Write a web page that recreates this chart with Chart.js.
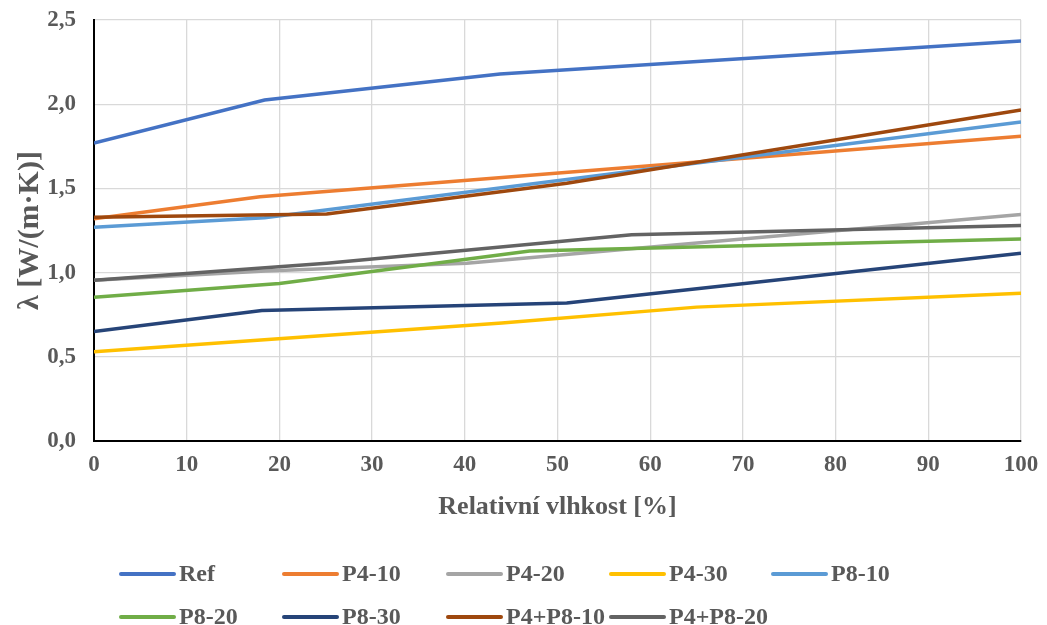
<!DOCTYPE html>
<html>
<head>
<meta charset="utf-8">
<script src="https://cdn.jsdelivr.net/npm/chart.js@4/dist/chart.umd.min.js"></script>
<style>
  html, body { margin: 0; padding: 0; background: #fff; }
  #wrap { width: 1047px; height: 625px; position: relative; }
</style>
</head>
<body>
<div id="wrap"><canvas id="c" width="1047" height="625"></canvas></div>
<script>
// Relative humidity [%] and thermal conductivity [W/(m·K)] per mixture
const seriesNames = ['Ref', 'P4-10', 'P4-20', 'P4-30', 'P8-10', 'P8-20', 'P8-30', 'P4+P8-10', 'P4+P8-20'];

const refRH = [0, 18.4, 43.8, 100];
const refLambda = [1.77, 2.025, 2.18, 2.375];

const p4_10RH = [0, 17.9, 100];
const p4_10Lambda = [1.32, 1.45, 1.81];

const p4_20RH = [0, 18.5, 40.2, 100];
const p4_20Lambda = [0.955, 1.01, 1.055, 1.345];

const p4_30RH = [0, 18, 44, 65, 100];
const p4_30Lambda = [0.53, 0.60, 0.70, 0.795, 0.878];

const p8_10RH = [0, 18.4, 100];
const p8_10Lambda = [1.27, 1.326, 1.895];

const p8_20RH = [0, 20, 47, 100];
const p8_20Lambda = [0.853, 0.935, 1.128, 1.20];

const p8_30RH = [0, 18.1, 51, 100];
const p8_30Lambda = [0.65, 0.775, 0.82, 1.115];

const p4p8_10RH = [0, 25.1, 51, 100];
const p4p8_10Lambda = [1.328, 1.348, 1.53, 1.965];

const p4p8_20RH = [0, 25.1, 58, 100];
const p4p8_20Lambda = [0.955, 1.055, 1.225, 1.28];

const xTicks = [0, 10, 20, 30, 40, 50, 60, 70, 80, 90, 100];
const yTicks = [0, 0.5, 1.0, 1.5, 2.0, 2.5];

const seriesRH = [refRH, p4_10RH, p4_20RH, p4_30RH, p8_10RH, p8_20RH, p8_30RH, p4p8_10RH, p4p8_20RH];
const seriesLambda = [refLambda, p4_10Lambda, p4_20Lambda, p4_30Lambda, p8_10Lambda, p8_20Lambda, p8_30Lambda, p4p8_10Lambda, p4p8_20Lambda];
const seriesColors = ['#4472C4', '#ED7D31', '#A5A5A5', '#FFC000', '#5B9BD5', '#70AD47', '#264478', '#9E480E', '#636363'];

const textColor = '#595959';
const fontFamily = "'Liberation Serif', 'Times New Roman', serif";

const datasets = seriesNames.map((name, i) => ({
  label: name,
  data: seriesRH[i].map((x, k) => ({ x: x, y: seriesLambda[i][k] })),
  borderColor: seriesColors[i],
  backgroundColor: seriesColors[i],
  borderWidth: 3.5,
  pointRadius: 0,
  tension: 0,
  fill: false,
  order: seriesNames.length - i
}));

// Legend laid out on a fixed grid of five columns
const gridLegend = {
  id: 'gridLegend',
  afterDraw(chart) {
    const ctx = chart.ctx;
    const cols = [121, 284, 448, 611, 773];
    const rows = [574, 617];
    ctx.save();
    ctx.font = 'bold 24px ' + fontFamily;
    ctx.textBaseline = 'middle';
    ctx.textAlign = 'left';
    chart.data.datasets.forEach((ds, i) => {
      const x = cols[i % 5];
      const y = rows[Math.floor(i / 5)];
      ctx.strokeStyle = ds.borderColor;
      ctx.lineWidth = 4;
      ctx.lineCap = 'round';
      ctx.beginPath();
      ctx.moveTo(x, y);
      ctx.lineTo(x + 53, y);
      ctx.stroke();
      ctx.fillStyle = textColor;
      ctx.fillText(ds.label, x + 58, y + 1);
    });
    ctx.restore();
  }
};

new Chart(document.getElementById('c'), {
  type: 'line',
  data: { datasets: datasets },
  plugins: [gridLegend],
  options: {
    responsive: false,
    animation: false,
    layout: { padding: { left: 0, right: 26, top: 20, bottom: 94 } },
    plugins: {
      legend: { display: false },
      tooltip: { enabled: false }
    },
    scales: {
      x: {
        type: 'linear',
        min: 0,
        max: 100,
        afterBuildTicks(scale) { scale.ticks = xTicks.map(v => ({ value: v })); },
        afterFit(scale) {
          scale.height = 90;
          scale.paddingLeft = 0;
          scale.paddingRight = 0;
        },
        grid: { color: '#d9d9d9', lineWidth: 1.3, drawTicks: false },
        border: { color: '#000000', width: 2 },
        ticks: {
          padding: 10,
          color: textColor,
          font: { family: fontFamily, size: 23, weight: 'bold' },
          maxRotation: 0,
          callback: v => String(v)
        },
        title: {
          display: true,
          text: 'Relativní vlhkost [%]',
          color: textColor,
          font: { family: fontFamily, size: 26, weight: 'bold' },
          padding: { top: 4, bottom: 8 }
        }
      },
      y: {
        type: 'linear',
        min: 0,
        max: 2.5,
        afterBuildTicks(scale) { scale.ticks = yTicks.map(v => ({ value: v })); },
        afterFit(scale) {
          scale.width = 94;
          scale.paddingTop = 0;
          scale.paddingBottom = 0;
        },
        grid: { color: '#d9d9d9', lineWidth: 1.3, drawTicks: false },
        border: { color: '#000000', width: 2 },
        ticks: {
          padding: 18,
          color: textColor,
          font: { family: fontFamily, size: 23, weight: 'bold' },
          callback: v => v.toFixed(1).replace('.', ',')
        },
        title: {
          display: true,
          text: 'λ [W/(m·K)]',
          color: textColor,
          font: { family: fontFamily, size: 30, weight: 'bold' },
          padding: { top: 12, bottom: 0 }
        }
      }
    }
  }
});
</script>
</body>
</html>
